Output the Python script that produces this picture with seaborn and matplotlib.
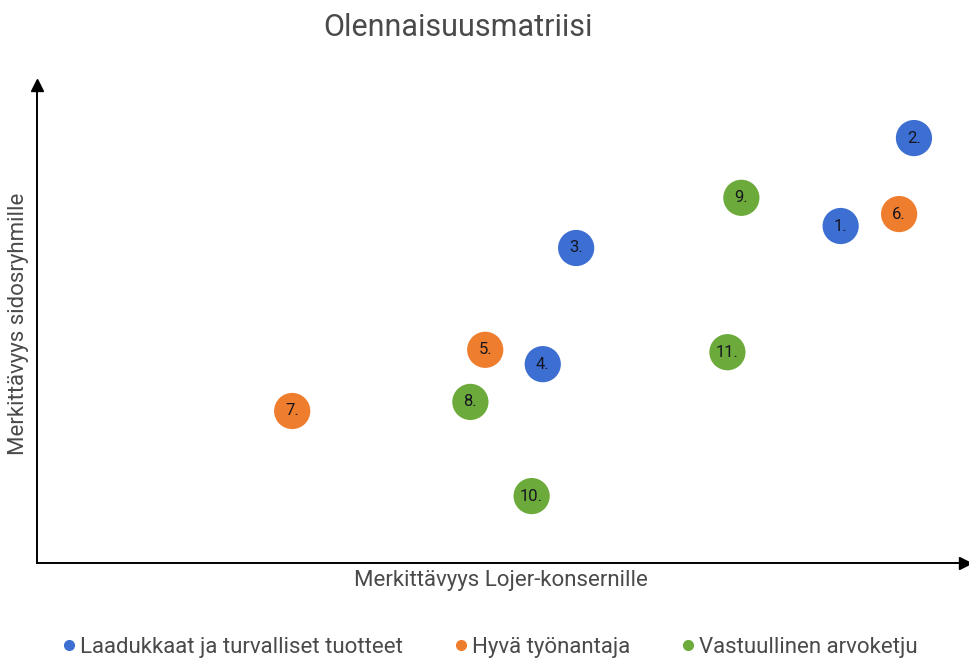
import pandas as pd
import seaborn as sns
import matplotlib.pyplot as plt

labels = ["1.", "2.", "3.", "4.", "5.", "6.", "7.", "8.", "9.", "10.", "11."]
x_vals = [8.66, 9.45, 5.81, 5.45, 4.83, 9.29, 2.75, 4.67, 7.59, 5.33, 7.44]
y_vals = [7.05, 8.89, 6.59, 4.16, 4.46, 7.30, 3.18, 3.37, 7.64, 1.40, 4.41]
groups = ["Laadukkaat ja turvalliset tuotteet"] * 4 + ["Hyvä työnantaja"] * 3 + ["Vastuullinen arvoketju"] * 4
group_order = ["Laadukkaat ja turvalliset tuotteet", "Hyvä työnantaja", "Vastuullinen arvoketju"]
colors = ["#3C6FD1", "#EF7D2E", "#6CAB3B"]

df = pd.DataFrame({"x": x_vals, "y": y_vals, "ryhmä": groups, "nro": labels})

sns.set_style("white")
plt.rcParams["font.family"] = ["Roboto", "DejaVu Sans"]

fig = plt.figure(figsize=(9.69, 6.59), dpi=100)
ax = fig.add_axes([37 / 969, 96 / 659, 928 / 969, 478 / 659])

sns.scatterplot(data=df, x="x", y="y", hue="ryhmä", hue_order=group_order,
                palette=colors, s=680, edgecolor="none", ax=ax, legend=False)

for _, r in df.iterrows():
    ax.text(r["x"], r["y"], r["nro"], ha="center", va="center",
            fontsize=12, color="#15151f")

ax.set_xlim(0, 10)
ax.set_ylim(0, 10)
ax.set_xticks([])
ax.set_yticks([])
for side in ["top", "right"]:
    ax.spines[side].set_visible(False)
for side in ["left", "bottom"]:
    ax.spines[side].set_color("black")
    ax.spines[side].set_linewidth(1.4)

# arrow heads
ax.plot(1, 0, ">k", markersize=9, transform=ax.transAxes, clip_on=False)
ax.plot(0, 1, "^k", markersize=9, transform=ax.transAxes, clip_on=False)

ax.set_xlabel("Merkittävyys Lojer-konsernille", fontsize=16, color="#4a4a4a",
              labelpad=5)
ax.set_ylabel("Merkittävyys sidosryhmille", fontsize=16, color="#4a4a4a",
              labelpad=6)
fig.text(458 / 969, 1 - 28 / 659, "Olennaisuusmatriisi", ha="center", va="center",
         fontsize=22, color="#4a4a4a")

handles = [plt.Line2D([], [], marker="o", linestyle="none", color=c, markersize=7)
           for c in colors]
fig.legend(handles, group_order, loc="center", bbox_to_anchor=(488 / 969, 1 - 647 / 659),
           ncol=3, frameon=False, fontsize=16, handletextpad=0.0, handlelength=1.0,
           columnspacing=2.1, labelcolor="#4a4a4a")

fig.savefig("out.png", dpi=100)
